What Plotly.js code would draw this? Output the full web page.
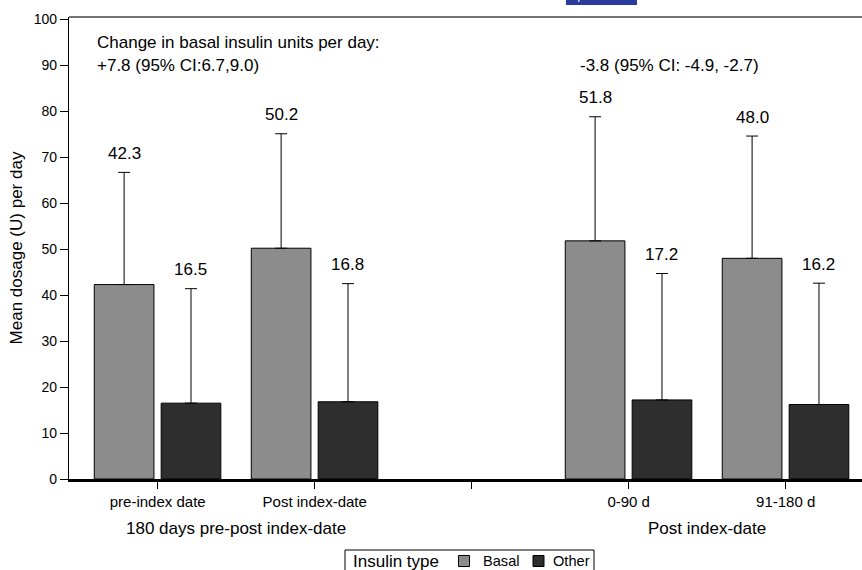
<!DOCTYPE html>
<html>
<head>
<meta charset="utf-8">
<script src="https://cdn.plot.ly/plotly-3.0.1.min.js"></script>
<style>
  html, body { margin: 0; padding: 0; background: #fff; overflow: hidden; }
  #chart { width: 862px; height: 570px; }
</style>
</head>
<body>
<div id="chart"></div>
<script>
// ---- data ----
const categoryOrder = ['pre-index date', 'Post index-date', ' ', '0-90 d', '91-180 d'];
const categories = ['pre-index date', 'Post index-date', '0-90 d', '91-180 d'];
const basalMean = [42.3, 50.2, 51.8, 48.0];
const basalSD = [24.4, 24.9, 27.0, 26.6];
const otherMean = [16.5, 16.8, 17.2, 16.2];
const otherSD = [24.9, 25.7, 27.5, 26.4];
const seriesNames = ['Basal', 'Other'];
const legendTitle = 'Insulin type';
const groupLabels = ['180 days pre-post index-date', 'Post index-date'];
const groupCenters = [0.5, 3.5];
const changeText1 = ['Change in basal insulin units per day:', '+7.8 (95% CI:6.7,9.0)'];
const changeText2 = '-3.8 (95% CI: -4.9, -2.7)';

const FONT = 'Liberation Sans, Arial, Helvetica, sans-serif';
const COLORS = ['#8c8c8c', '#2e2e2e'];
const BAR_W = 0.38;
const OFF_BASAL = -0.404;
const OFF_OTHER = 0.022;

// plot-area geometry (pixels) used for placing paper-referenced decorations
const ML = 69, MR = 0, MT = 17, MB = 91, W = 862, H = 570;
const PW = W - ML - MR, PH = H - MT - MB;
const px = x => (x - ML) / PW;
const py = y => (H - MB - y) / PH;

const zeros = a => a.map(() => 0);

function barTrace(name, means, sds, off, color) {
  return {
    type: 'bar', name: name,
    x: categories, y: means,
    width: BAR_W, offset: off,
    marker: { color: color, line: { color: '#000', width: 1 } },
    error_y: { type: 'data', symmetric: false, array: sds, arrayminus: zeros(sds),
               color: '#000', thickness: 1, width: 6 },
    hoverinfo: 'skip', showlegend: false
  };
}
const traces = [
  barTrace(seriesNames[0], basalMean, basalSD, OFF_BASAL, COLORS[0]),
  barTrace(seriesNames[1], otherMean, otherSD, OFF_OTHER, COLORS[1])
];

const annotations = [];
function valueLabels(means, sds, off) {
  categories.forEach((c, i) => {
    annotations.push({
      x: categoryOrder.indexOf(c) + off + BAR_W / 2,
      y: means[i] + sds[i], xref: 'x', yref: 'y',
      text: means[i].toFixed(1), showarrow: false,
      yanchor: 'middle', yshift: 19,
      font: { family: FONT, size: 17, color: '#000' }
    });
  });
}
valueLabels(basalMean, basalSD, OFF_BASAL);
valueLabels(otherMean, otherSD, OFF_OTHER);

groupLabels.forEach((t, i) => {
  annotations.push({
    x: groupCenters[i], y: 0, xref: 'x', yref: 'paper',
    text: t, showarrow: false, yanchor: 'middle', yshift: -49,
    font: { family: FONT, size: 17, color: '#000' }
  });
});

annotations.push({
  x: -0.399, y: 95, xref: 'x', yref: 'y', xanchor: 'left', yanchor: 'middle',
  text: changeText1[0], showarrow: false, font: { family: FONT, size: 17, color: '#000' }
});
annotations.push({
  x: -0.399, y: 90, xref: 'x', yref: 'y', xanchor: 'left', yanchor: 'middle',
  text: changeText1[1], showarrow: false, font: { family: FONT, size: 17, color: '#000' }
});
annotations.push({
  x: 2.677, y: 90, xref: 'x', yref: 'y', xanchor: 'left', yanchor: 'middle',
  text: changeText2, showarrow: false, font: { family: FONT, size: 17, color: '#000' }
});
// partially visible "Open Access" badge at the very top
annotations.push({
  x: px(601), y: 1, xref: 'paper', yref: 'paper', xanchor: 'center', yanchor: 'bottom',
  yshift: 12, text: 'Open Access', showarrow: false,
  bgcolor: '#2b3a9e', bordercolor: '#2b3a9e', borderpad: 2,
  font: { family: FONT, size: 11, color: '#fff' }
});

// ---- legend (boxed, horizontal, cut by the bottom edge as in the reference) ----
const LEG_Y = 561;
const shapes = [
  { type: 'line', xref: 'paper', yref: 'paper', x0: 0, x1: 1, y0: 1, y1: 1,
    line: { color: '#444', width: 1.5 } },
  { type: 'rect', xref: 'paper', yref: 'paper', x0: px(345), x1: px(594), y0: py(550), y1: py(580),
    line: { color: '#000', width: 1 }, fillcolor: 'rgba(0,0,0,0)' }
];
annotations.push({
  x: px(351), y: py(LEG_Y), xref: 'paper', yref: 'paper', xanchor: 'left', yanchor: 'middle',
  text: legendTitle, showarrow: false, font: { family: FONT, size: 17, color: '#000' }
});
const keyX = [458.5, 533];
const labelX = [480.5, 550.5];
seriesNames.forEach((n, i) => {
  shapes.push({ type: 'rect', xref: 'paper', yref: 'paper',
    x0: px(keyX[i]), x1: px(keyX[i] + 11), y0: py(LEG_Y - 5.5), y1: py(LEG_Y + 5.5),
    line: { color: '#000', width: 1 }, fillcolor: COLORS[i] });
  annotations.push({
    x: px(labelX[i]), y: py(LEG_Y), xref: 'paper', yref: 'paper', xanchor: 'left', yanchor: 'middle',
    text: n, showarrow: false, font: { family: FONT, size: 14.6, color: '#000' }
  });
});

const layout = {
  width: W, height: H,
  margin: { l: ML, r: MR, t: MT, b: MB, autoexpand: false },
  paper_bgcolor: '#fff', plot_bgcolor: '#fff',
  font: { family: FONT, color: '#000' },
  showlegend: false,
  xaxis: {
    type: 'category', categoryorder: 'array', categoryarray: categoryOrder,
    range: [-0.565, 4.486], showgrid: false, zeroline: false,
    showline: true, linecolor: '#000', linewidth: 2.5,
    ticks: 'outside', ticklen: 7, tickwidth: 1, tickcolor: '#000',
    tickvals: categoryOrder, ticktext: categoryOrder,
    tickfont: { family: FONT, size: 15, color: '#000' },
    fixedrange: true
  },
  yaxis: {
    range: [0, 100.5], showgrid: false, zeroline: false,
    showline: true, linecolor: '#000', linewidth: 1.2,
    ticks: 'outside', ticklen: 8, tickwidth: 1, tickcolor: '#000',
    tickvals: [0, 10, 20, 30, 40, 50, 60, 70, 80, 90, 100],
    tickfont: { family: FONT, size: 14, color: '#000' },
    title: { text: 'Mean dosage (U) per day', standoff: 6, font: { family: FONT, size: 17, color: '#000' } },
    fixedrange: true
  },
  shapes: shapes,
  annotations: annotations,
  bargap: 0
};

Plotly.newPlot('chart', traces, layout, { displayModeBar: false, staticPlot: true }).then(() => {
  // hide a stray 1px vertical edge line at the right side of the plot area
  const svgNS = 'http://www.w3.org/2000/svg';
  const svgs = document.querySelectorAll('#chart svg.main-svg');
  const top = svgs[svgs.length - 1];
  const r = document.createElementNS(svgNS, 'rect');
  r.setAttribute('x', 853); r.setAttribute('y', 19);
  r.setAttribute('width', 9); r.setAttribute('height', 457.5);
  r.setAttribute('fill', '#fff');
  top.appendChild(r);
});
</script>
</body>
</html>
